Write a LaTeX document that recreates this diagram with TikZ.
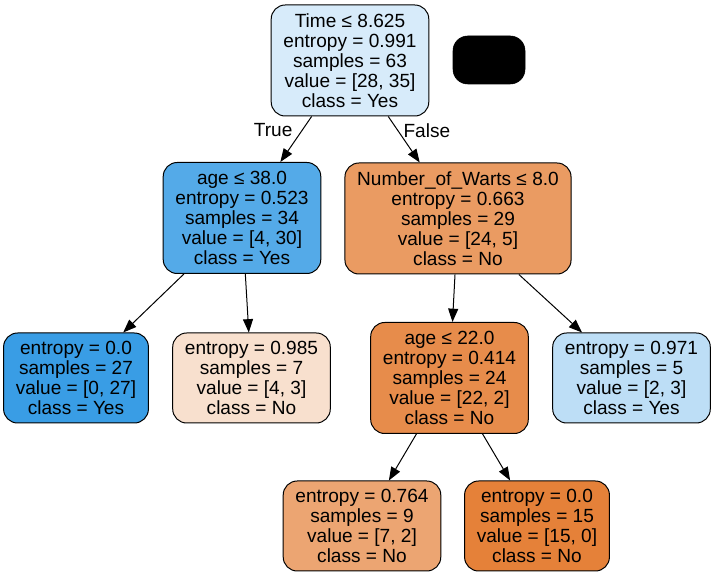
\documentclass[tikz,border=0pt]{standalone}
\usepackage{xcolor}
\usepackage{fontspec}
\setmainfont{Liberation Sans}
\usetikzlibrary{arrows.meta}

\definecolor{yesfull}{HTML}{399DE5}
\definecolor{yesdeep}{HTML}{54AAE8}
\definecolor{yesmid}{HTML}{BDDEF6}
\definecolor{yeslight}{HTML}{D7EBFA}
\definecolor{nofull}{HTML}{E58139}
\definecolor{nodeep}{HTML}{E78C4B}
\definecolor{nomid}{HTML}{EA9B62}
\definecolor{nosoft}{HTML}{ECA572}
\definecolor{nolight}{HTML}{F8E0CE}

\tikzset{
  treebox/.style={draw=black, line width=0.75pt, rounded corners=10.5pt, align=center,
    inner xsep=9.2pt, inner ysep=0pt, font=\fontsize{14.3pt}{15pt}\selectfont},
  splitbox/.style={treebox, minimum height=83.25pt},
  leafbox/.style={treebox, minimum height=67.5pt},
  treeedge/.style={line width=0.75pt, -{Triangle[length=10pt,width=7.5pt]}},
  edgelabel/.style={font=\fontsize{14.3pt}{15pt}\selectfont, inner sep=0pt}
}

\begin{document}
\begin{tikzpicture}[x=0.75pt,y=0.75pt,yscale=-1,xscale=1]
\useasboundingbox[fill=white] (0,0) rectangle (715,577);

%Shape: split nodes
\node[splitbox, fill=yeslight] (root) at (350,60.5) {Time ≤ 8.625\\entropy = 0.991\\samples = 63\\value = [28, 35]\\class = Yes};
\node[splitbox, fill=yesdeep] (age38) at (242,218) {age ≤ 38.0\\entropy = 0.523\\samples = 34\\value = [4, 30]\\class = Yes};
\node[splitbox, fill=nomid] (warts) at (458,218.5) {Number\_of\_Warts ≤ 8.0\\entropy = 0.663\\samples = 29\\value = [24, 5]\\class = No};
\node[splitbox, fill=nodeep] (age22) at (449.5,378) {age ≤ 22.0\\entropy = 0.414\\samples = 24\\value = [22, 2]\\class = No};

%Shape: black box
\node[draw=black, fill=black, rounded corners=11pt, minimum width=54pt, minimum height=36pt] (blank) at (489,60) {};

%Shape: leaves
\node[leafbox, fill=yesfull] (leafa) at (76,378) {entropy = 0.0\\samples = 27\\value = [0, 27]\\class = Yes};
\node[leafbox, fill=nolight] (leafb) at (251.5,378) {entropy = 0.985\\samples = 7\\value = [4, 3]\\class = No};
\node[leafbox, fill=yesmid] (leafc) at (631.5,378) {entropy = 0.971\\samples = 5\\value = [2, 3]\\class = Yes};
\node[leafbox, fill=nosoft] (leafd) at (362,526) {entropy = 0.764\\samples = 9\\value = [7, 2]\\class = No};
\node[leafbox, fill=nofull] (leafe) at (537,526) {entropy = 0.0\\samples = 15\\value = [15, 0]\\class = No};

% Edges
\draw[treeedge] (root) -- node[edgelabel, pos=0.3, left=7pt] {True} (age38);
\draw[treeedge] (root) -- node[edgelabel, pos=0.3, right=4pt] {False} (warts);
\draw[treeedge] (age38) -- (leafa);
\draw[treeedge] (age38) -- (leafb);
\draw[treeedge] (warts) -- (age22);
\draw[treeedge] (warts) -- (leafc);
\draw[treeedge] (age22) -- (leafd);
\draw[treeedge] (age22) -- (leafe);

\end{tikzpicture}
\end{document}
